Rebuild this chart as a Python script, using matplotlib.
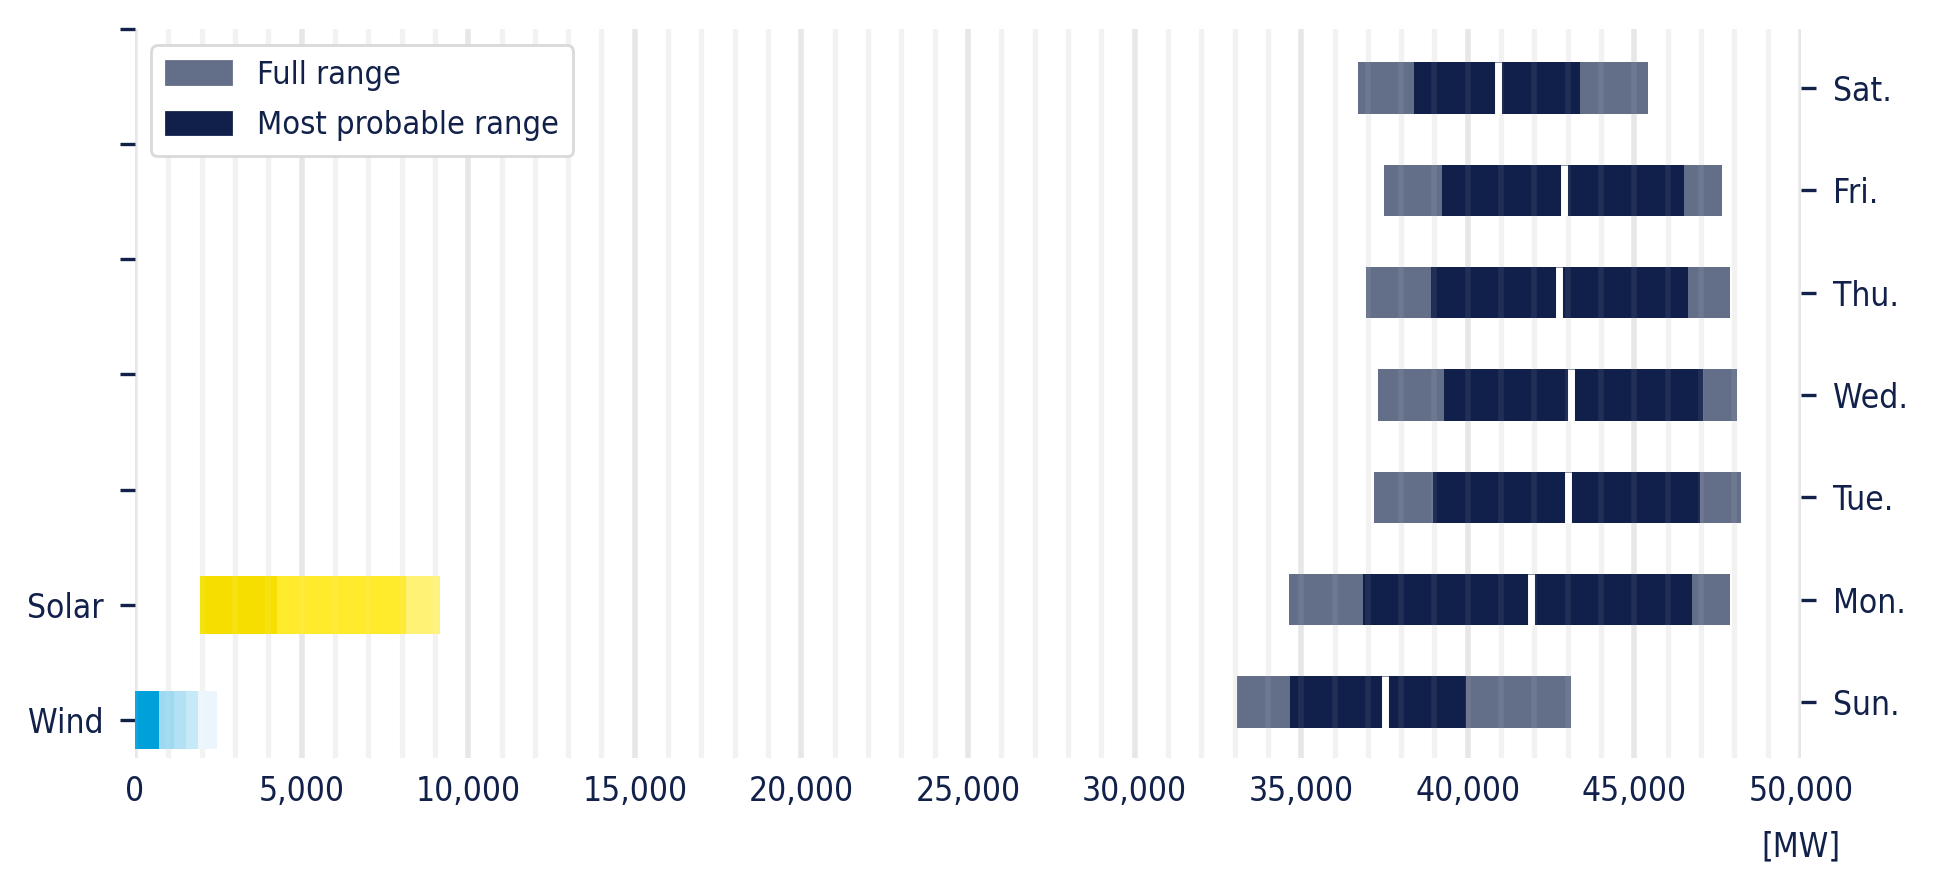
import matplotlib
matplotlib.use('Agg')
import numpy as np
import matplotlib.pyplot as plt
from matplotlib.patches import Patch
from matplotlib.ticker import MultipleLocator, FuncFormatter

plt.rcParams['font.family'] = ['DejaVu Sans']
plt.rcParams['font.stretch'] = 'condensed'
plt.rcParams['font.size'] = 12

# week days, bottom to top (right axis)
days = ['Sun.', 'Mon.', 'Tue.', 'Wed.', 'Thu.', 'Fri.', 'Sat.']
full_min = [33080, 34640, 37190, 37300, 36950, 37490, 36700]
full_max = [43100, 47870, 48200, 48080, 47870, 47630, 45400]
prob_min = [34670, 36860, 38960, 39290, 38900, 39230, 38390]
prob_mid = [37530, 41910, 43010, 43110, 42750, 42890, 40920]
prob_max = [39950, 46730, 46970, 47060, 46610, 46490, 43370]

# renewables (left axis)
renew_labels = ['Wind', 'Solar', '', '', '', '', '']
wind_edges = [0, 710, 1160, 1520, 1880, 2450]
solar_edges = [1940, 4250, 8120, 9140]

navy = '#12214a'
c_full = '#636e88'
c_prob = '#11204a'
wind_colors = ['#00a1db', '#9dd9f1', '#b1e1f3', '#c5e9f6', '#ebf6fc']
solar_colors = ['#f6df00', '#ffea2b', '#fff275']

fig = plt.figure(figsize=(9.685, 4.47), dpi=200)
ax = fig.add_axes([135 / 1937, 1 - 758 / 894, 1666 / 1937, 729 / 894])

ax.set_xlim(0, 50000)
ax.xaxis.set_major_locator(MultipleLocator(5000))
ax.xaxis.set_minor_locator(MultipleLocator(1000))
ax.xaxis.set_major_formatter(FuncFormatter(lambda v, p: f'{v:,.0f}'))
ax.set_axisbelow(True)
ax.grid(which='major', axis='x', color='#e6e6e6', lw=2.0)
ax.grid(which='minor', axis='x', color='#f2f2f2', lw=1.9)
ax.tick_params(axis='x', which='both', length=0, labelcolor=navy, pad=6)

ax.barh(0, np.diff(wind_edges), left=wind_edges[:-1], height=0.5, color=wind_colors)
ax.barh(1, np.diff(solar_edges), left=solar_edges[:-1], height=0.5, color=solar_colors)
ax.set_yticks(range(len(renew_labels)), renew_labels)
ax.set_ylim(-0.33, 6)
ax.tick_params(axis='y', length=5.4, width=1.2, color=navy, labelcolor=navy, pad=6)

ax.set_xlabel('[MW]', color=navy, va='top')
ax.xaxis.set_label_coords(1.0, -0.10)

ax2 = ax.twinx()
y = np.arange(len(days))
ax2.barh(y, np.array(full_max) - np.array(full_min), left=full_min, height=0.5, color=c_full)
ax2.barh(y, np.array(prob_max) - np.array(prob_min), left=prob_min, height=0.5, color=c_prob)
for i, m in enumerate(prob_mid):
    ax2.plot([m, m], [i - 0.25, i + 0.25], color='white', lw=2.5, solid_capstyle='butt')
# faint grid showing through the bars
ax2.vlines(np.arange(0, 50001, 1000), 0, 1, transform=ax2.get_xaxis_transform(),
           color='white', alpha=0.07, lw=2.0)
ax2.set_yticks(y, days)
ax2.set_ylim(-0.547, 6.577)
ax2.tick_params(axis='y', length=5.4, width=1.2, color=navy, labelcolor=navy, pad=6)

for a in (ax, ax2):
    for s in a.spines.values():
        s.set_visible(False)

handles = [Patch(color=c_full, label='Full range'),
           Patch(color=c_prob, label='Most probable range')]
leg = ax2.legend(handles=handles, loc='upper left', edgecolor='#d9d9d9', framealpha=1,
                 labelcolor=navy, handlelength=2.0, handletextpad=0.8, fontsize=11.7,
                 labelspacing=0.6, borderpad=0.45)
leg.get_frame().set_linewidth(1.0)

fig.savefig('out.png', dpi=200)
